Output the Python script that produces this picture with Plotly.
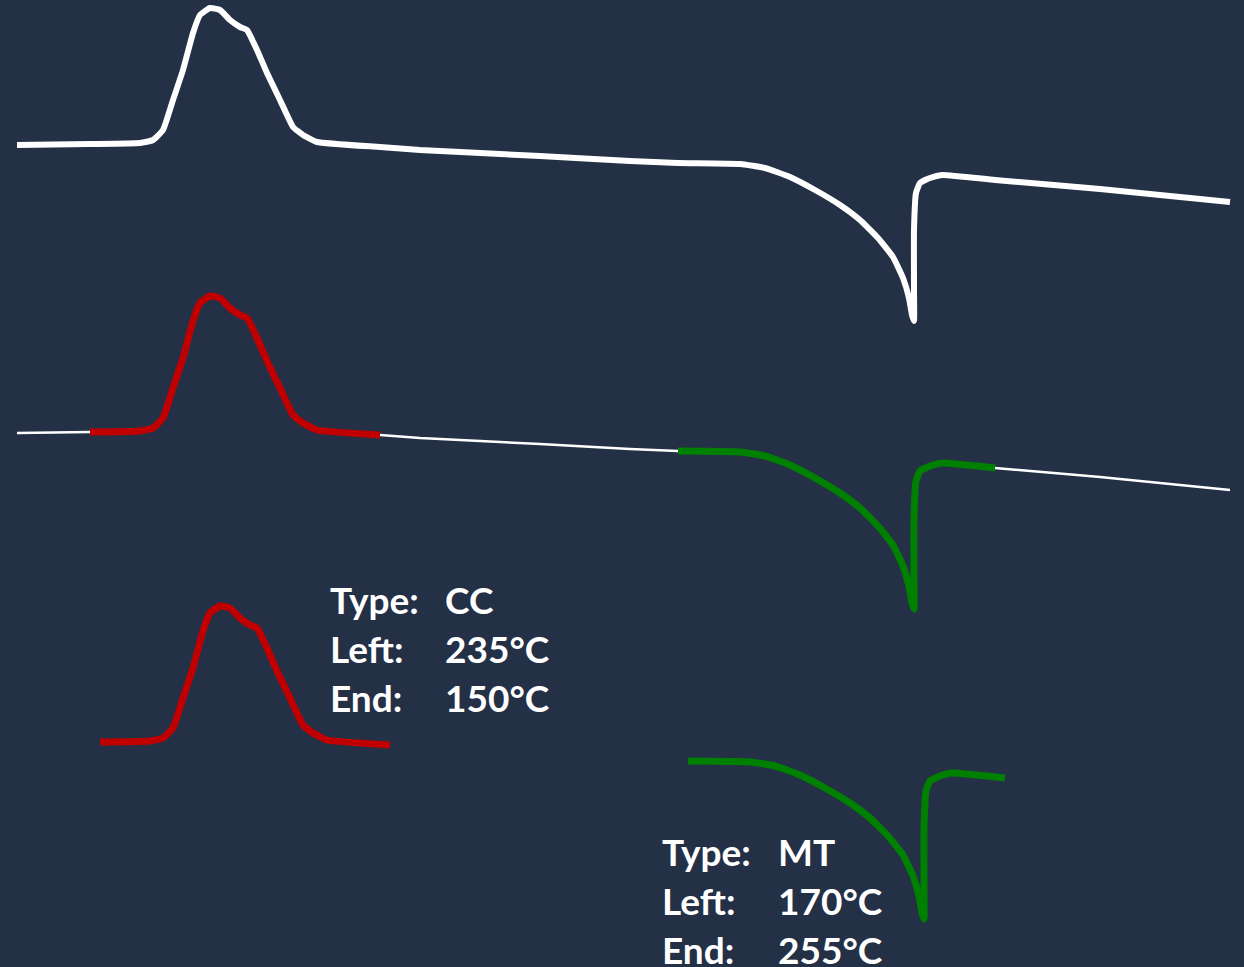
import plotly.graph_objects as go

# thermogram trace (heat flow curve) in screen units
temp_x = [17, 90, 140, 153, 163, 173, 183, 193, 200, 210, 220, 230, 240, 247,
          257, 267, 280, 293, 303, 317, 380, 420, 540, 630, 678, 740, 765, 790,
          815, 840, 860, 878, 893, 903, 909, 912, 914, 914, 914, 916, 920, 930,
          942, 995, 1100, 1230]
heat_y = [145, 144, 143, 140, 130, 100, 70, 33, 15, 8, 10, 20, 27, 30,
          50, 73, 100, 127, 135, 142, 147, 150, 156, 161, 163, 164, 168, 177,
          190, 205, 220, 238, 257, 278, 298, 315, 321, 290, 230, 193, 183, 178,
          175, 180, 189, 202]

# peak windows picked out on the curve
cc_range = (90, 380)
mt_range = (678, 995)

cc_labels = ["Type:", "Left:", "End:"]
cc_values = ["CC", "235°C", "150°C"]
mt_labels = ["Type:", "Left:", "End:"]
mt_values = ["MT", "170°C", "255°C"]

BG = "#243046"
RED = "#c00000"
GREEN = "#008000"
FONT = "Lato"


def segment(lo, hi):
    """Points of the curve inside a window"""
    pts = [(x, y) for x, y in zip(temp_x, heat_y) if lo <= x <= hi]
    return [p[0] for p in pts], [p[1] for p in pts]


def add_line(fig, xs, ys, dx, dy, color, width):
    fig.add_trace(go.Scatter(
        x=[v + dx for v in xs], y=[v + dy for v in ys],
        mode="lines", line=dict(color=color, width=width, shape="spline", smoothing=0.4),
        hoverinfo="skip", showlegend=False))


fig = go.Figure()

# full curve on top
add_line(fig, temp_x, heat_y, 0, 0, "white", 6)

# same curve with the two events highlighted
add_line(fig, temp_x, heat_y, 0, 288, "white", 2.5)
cc_x, cc_y = segment(*cc_range)
mt_x, mt_y = segment(*mt_range)
add_line(fig, cc_x, cc_y, 0, 288, RED, 7)
add_line(fig, mt_x, mt_y, 0, 288, GREEN, 7)

# events pulled out on their own
add_line(fig, cc_x, cc_y, 10, 598, RED, 7)
add_line(fig, mt_x, mt_y, 10, 598, GREEN, 7)


# info text blocks
def add_block(labels, values, x_lab, x_val, y0):
    for i, (lab, val) in enumerate(zip(labels, values)):
        for txt, xx in ((lab, x_lab), (val, x_val)):
            fig.add_annotation(
                x=xx, y=y0 + i * 49, text="<b>" + txt + "</b>", showarrow=False,
                xanchor="left", yanchor="middle", xref="x", yref="y",
                font=dict(family=FONT, size=37, color="white"))


add_block(cc_labels, cc_values, 328, 443, 599)
add_block(mt_labels, mt_values, 660, 776, 851)

fig.update_xaxes(range=[0, 1244], visible=False, fixedrange=True)
fig.update_yaxes(range=[967, 0], visible=False, fixedrange=True)
fig.update_layout(
    width=1244, height=967,
    margin=dict(l=0, r=0, t=0, b=0),
    paper_bgcolor=BG, plot_bgcolor=BG,
)

# drop the default page margin so the figure fills the window
fig.write_html("out.html", config={"displayModeBar": False},
               post_script="document.body.style.margin='0';"
                           "document.body.style.background='" + BG + "';")
